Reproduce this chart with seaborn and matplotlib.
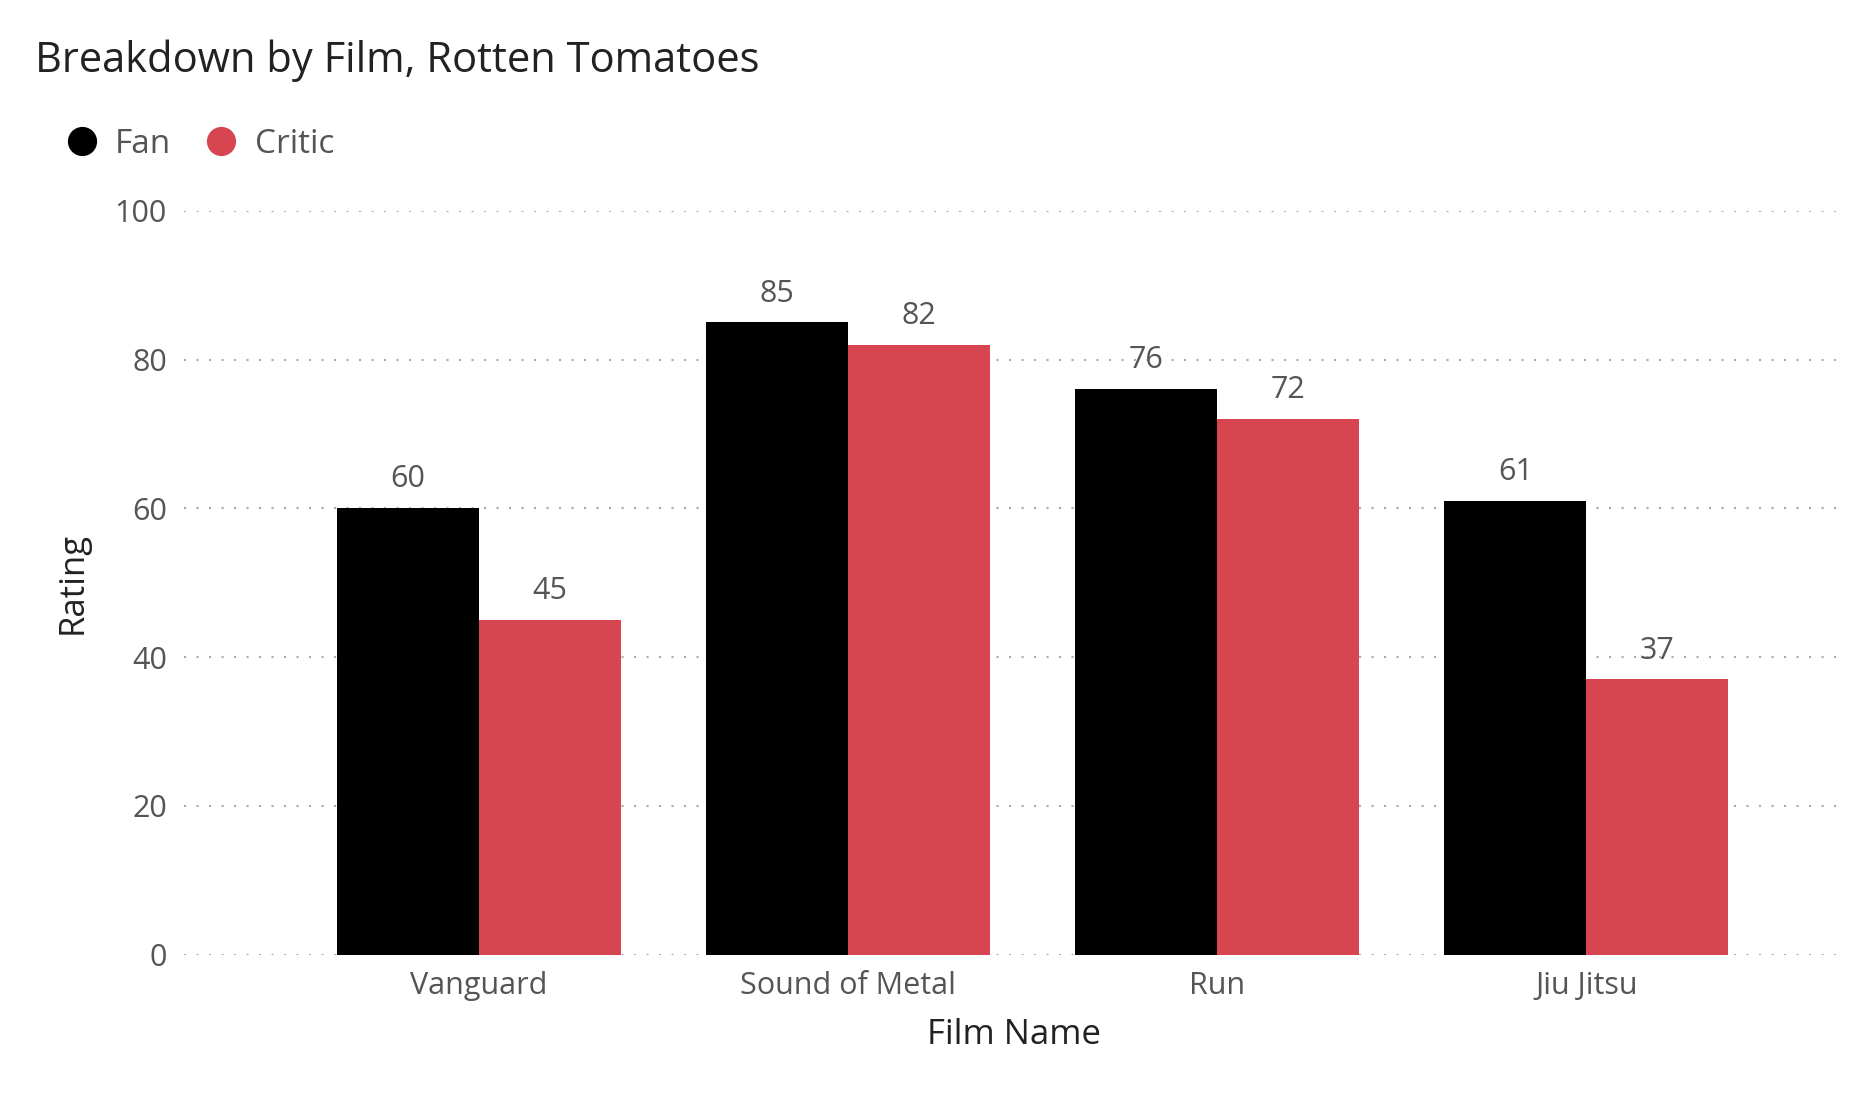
import matplotlib
matplotlib.use("Agg")
import matplotlib.pyplot as plt
import seaborn as sns
import pandas as pd
from matplotlib.lines import Line2D

films = ["Vanguard", "Sound of Metal", "Run", "Jiu Jitsu"]
fan = [60, 85, 76, 61]
critic = [45, 82, 72, 37]
series = ["Fan", "Critic"]
colors = ["#000000", "#D64550"]

df = pd.DataFrame({"Film Name": films * 2, "Rating": fan + critic,
                   "Series": ["Fan"] * 4 + ["Critic"] * 4})

plt.rcParams["font.family"] = "Open Sans"
fig = plt.figure(figsize=(18.54, 11.10), dpi=100)
ax = fig.add_axes([0.099, 0.14, 0.896, 0.67])
sns.barplot(data=df, x="Film Name", y="Rating", hue="Series", palette=colors,
            width=0.77, gap=0, ax=ax, legend=False, saturation=1)
for c in ax.containers:
    ax.bar_label(c, fontsize=22, color="#555555", padding=10)
ax.set_xlim(-0.8, 3.7)
ax.set_ylim(0, 100)
ax.set_yticks([0, 20, 40, 60, 80, 100])
ax.yaxis.grid(True, linestyle=(0, (1, 5)), color="#aaaaaa", linewidth=1.5)
ax.set_axisbelow(True)
for s in ax.spines.values():
    s.set_visible(False)
ax.tick_params(length=0, labelsize=22, labelcolor="#555555", pad=12)
ax.set_xlabel("Film Name", fontsize=25, color="#222222", labelpad=12)
ax.set_ylabel("Rating", fontsize=25, color="#222222", labelpad=18)
fig.text(0.019, 0.945, "Breakdown by Film, Rotten Tomatoes", fontsize=30,
         color="#222222", va="center")
handles = [Line2D([], [], marker="o", linestyle="", markersize=20, color=c) for c in colors]
fig.legend(handles, series, loc="center left", bbox_to_anchor=(0.01, 0.87),
           frameon=False, fontsize=24, handletextpad=0.0, columnspacing=0.5,
           ncol=2, labelcolor="#555555")
fig.savefig("out.png", dpi=100)
